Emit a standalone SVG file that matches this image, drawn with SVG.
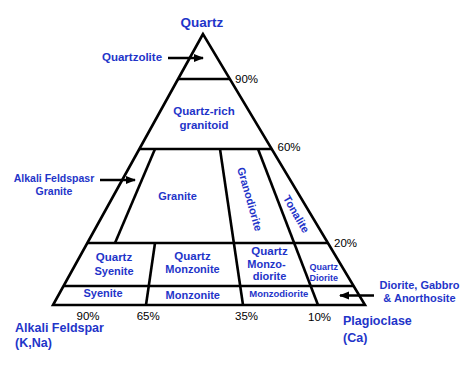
<svg xmlns="http://www.w3.org/2000/svg" width="474" height="366" viewBox="0 0 474 366">
<defs>
<style>
.ln{stroke:#000;stroke-width:2.6;fill:none;stroke-linecap:butt}
.t{font-family:"Liberation Sans",Arial,sans-serif;font-weight:bold;fill:#1f35c9;text-anchor:middle;font-size:11px}
.p{font-family:"Liberation Sans",Arial,sans-serif;fill:#000;font-size:11.5px}
.big{font-size:12.5px;text-anchor:start}
</style>
<marker id="ah" markerUnits="userSpaceOnUse" markerWidth="10" markerHeight="10" viewBox="0 0 10 10" refX="9" refY="5" orient="auto">
<path d="M0,1 L10,5 L0,9 Z" fill="#000"/>
</marker>
</defs>
<rect width="474" height="366" fill="#fff"/>
<g id="frame">
<polygon class="ln" points="203,34 53,305 365,305" stroke-linejoin="miter"/>
<line class="ln" x1="178" y1="79" x2="230" y2="79"/>
<line class="ln" x1="139.3" y1="149" x2="272" y2="149"/>
<line class="ln" x1="87.3" y1="243" x2="328" y2="243"/>
<line class="ln" x1="63.5" y1="286" x2="353.7" y2="286"/>
<line class="ln" x1="155" y1="149" x2="115" y2="243"/>
<line class="ln" x1="220" y1="149" x2="243" y2="305"/>
<line class="ln" x1="258" y1="149" x2="318" y2="305"/>
<line class="ln" x1="155" y1="243" x2="146" y2="305"/>
</g>
<g id="connectors">
<line class="ln" x1="168" y1="58" x2="203" y2="58" marker-end="url(#ah)"/>
<line class="ln" x1="100" y1="180" x2="135" y2="180" marker-end="url(#ah)"/>
<line class="ln" x1="374" y1="295.5" x2="340" y2="295.5" marker-end="url(#ah)"/>
</g>
<g id="quartz-apex"><text class="t" x="202" y="27" style="font-size:13.5px">Quartz</text></g>
<g id="quartzolite"><text class="t" x="132" y="61" style="font-size:11.5px">Quartzolite</text></g>
<g id="quartz-rich-granitoid"><text class="t" x="204" y="115" style="font-size:11.5px">Quartz-rich</text><text class="t" x="204" y="129" style="font-size:11.5px">granitoid</text></g>
<g id="alkali-feldspar-granite"><text class="t" x="54" y="182" style="font-size:10.5px">Alkali Feldspasr</text><text class="t" x="54" y="195" style="font-size:10.5px">Granite</text></g>
<g id="granite"><text class="t" x="177.5" y="200">Granite</text></g>
<g id="granodiorite"><text class="t" transform="translate(250,199) rotate(74)" x="0" y="4">Granodiorite</text></g>
<g id="tonalite"><text class="t" transform="translate(296.5,214) rotate(60)" x="0" y="4">Tonalite</text></g>
<g id="quartz-syenite"><text class="t" x="114" y="261" style="font-size:11.5px">Quartz</text><text class="t" x="114" y="275">Syenite</text></g>
<g id="quartz-monzonite"><text class="t" x="192.5" y="259.5" style="font-size:11.5px">Quartz</text><text class="t" x="192.5" y="273">Monzonite</text></g>
<g id="quartz-monzodiorite"><text class="t" x="269.5" y="254.5" style="font-size:11.5px">Quartz</text><text class="t" x="266.5" y="268">Monzo-</text><text class="t" x="269.5" y="280">diorite</text></g>
<g id="quartz-diorite"><text class="t" x="323.7" y="269.5" style="font-size:9px">Quartz</text><text class="t" x="323.7" y="281" style="font-size:9px">Diorite</text></g>
<g id="syenite"><text class="t" x="103" y="297">Syenite</text></g>
<g id="monzonite"><text class="t" x="192.8" y="298.5">Monzonite</text></g>
<g id="monzodiorite"><text class="t" x="278.8" y="296.5" style="font-size:9.5px">Monzodiorite</text></g>
<g id="diorite-gabbro-anorthosite"><text class="t" x="419.5" y="288.5">Diorite, Gabbro</text><text class="t" x="419.5" y="302">&amp; Anorthosite</text></g>
<g id="alkali-feldspar"><text class="t big" x="15" y="332">Alkali Feldspar</text><text class="t big" x="15" y="347">(K,Na)</text></g>
<g id="plagioclase"><text class="t big" x="343" y="325">Plagioclase</text><text class="t big" x="343" y="342">(Ca)</text></g>
<g id="percentages">
<text class="p" x="235" y="83">90%</text>
<text class="p" x="277.5" y="151">60%</text>
<text class="p" x="334" y="246.5">20%</text>
<text class="p" x="88" y="320" text-anchor="middle">90%</text>
<text class="p" x="148.2" y="320" text-anchor="middle">65%</text>
<text class="p" x="246.5" y="320" text-anchor="middle">35%</text>
<text class="p" x="319.5" y="321" text-anchor="middle">10%</text>
</g>
</svg>
